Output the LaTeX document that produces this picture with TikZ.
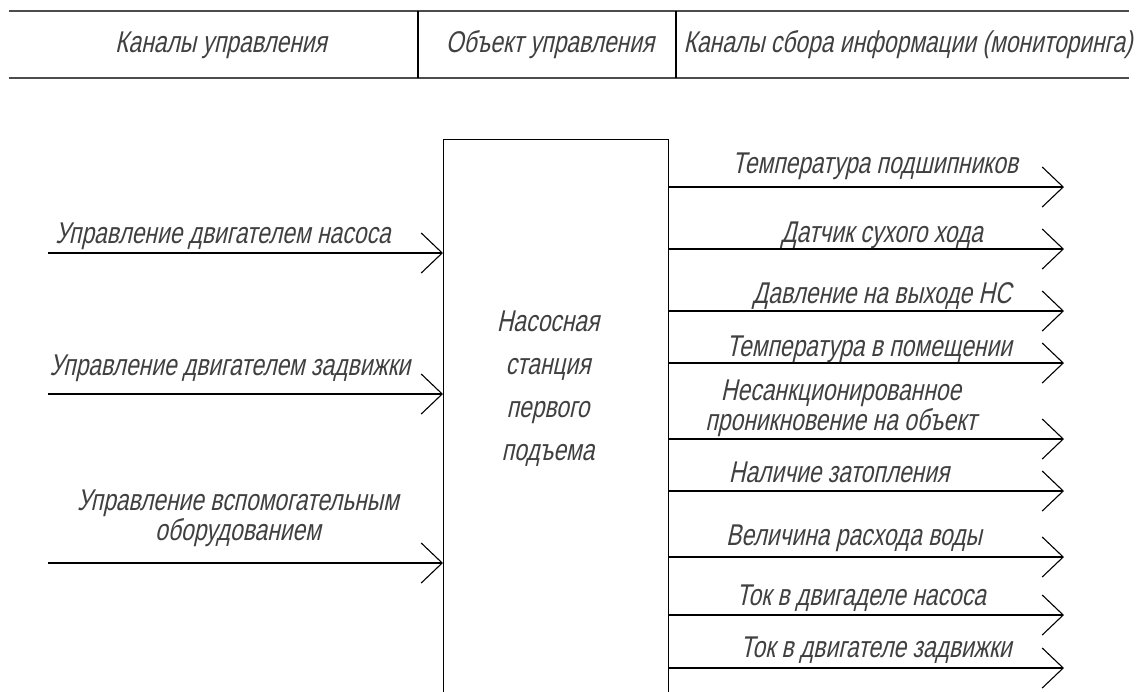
\documentclass[tikz,border=0pt]{standalone}
\usepackage{fontspec}
\newfontfamily\gost{Liberation Sans}[FakeSlant=0.22,FakeStretch=0.76]
\usetikzlibrary{arrows.meta,positioning}

\begin{document}
\begin{tikzpicture}[x=1pt,y=-1pt,
    lbl/.style={font=\gost\fontsize{30}{30}\selectfont, text=black!75, inner sep=0pt, anchor=base, align=center},
    chan/.style={line width=1.1pt, -{Straight Barb[length=21pt,width=40pt]}},
    hline/.style={line width=1.6pt, black!70}]
\useasboundingbox (0,0) rectangle (1143,691);
\clip (0,0) rectangle (1143,691);

% header
\draw[hline] (9,11) -- (1129,11);
\draw[hline] (9,78) -- (1129,78);
\draw[line width=1.1pt] (418,11) -- (418,78);
\draw[line width=1.1pt] (676,11) -- (676,78);
\node[lbl] (h_in) at (221,52) {Каналы управления};
\node[lbl] (h_obj) at (550,52) {Объект управления};
\node[lbl] (h_out) at (908,52) {Каналы сбора информации (мониторинга)};

% object
\node[draw, line width=1.1pt, inner sep=0pt, anchor=north west,
      minimum width=225, minimum height=600] (obj) at (443,139) {};
% (base of a multi-line node = its last line)
\node[lbl, font=\gost\fontsize{30}{42.7}\selectfont] (obj_t) at (548,460)
      {Насосная\\станция\\первого\\подъема};

% control channels
\coordinate (in_1) at (48,253);
\coordinate (in_2) at (48,394);
\coordinate (in_3) at (48,563);
\draw[chan] (in_1) -- (in_1 -| obj.west);
\draw[chan] (in_2) -- (in_2 -| obj.west);
\draw[chan] (in_3) -- (in_3 -| obj.west);
\node[lbl] (in_1_t) at (223,243) {Управление двигателем насоса};
\node[lbl] (in_2_t) at (230,375) {Управление двигателем задвижки};
\node[lbl] (in_3_t) at (238,540) {Управление вспомогательным\\оборудованием};

% monitoring channels
\coordinate (out_1) at (1064,187);
\coordinate (out_2) at (1064,249);
\coordinate (out_3) at (1064,311);
\coordinate (out_4) at (1064,363);
\coordinate (out_5) at (1064,439);
\coordinate (out_6) at (1064,491);
\coordinate (out_7) at (1064,557);
\coordinate (out_8) at (1064,615);
\coordinate (out_9) at (1064,668);
\draw[chan] (out_1 -| obj.east) -- (out_1);
\draw[chan] (out_2 -| obj.east) -- (out_2);
\draw[chan] (out_3 -| obj.east) -- (out_3);
\draw[chan] (out_4 -| obj.east) -- (out_4);
\draw[chan] (out_5 -| obj.east) -- (out_5);
\draw[chan] (out_6 -| obj.east) -- (out_6);
\draw[chan] (out_7 -| obj.east) -- (out_7);
\draw[chan] (out_8 -| obj.east) -- (out_8);
\draw[chan] (out_9 -| obj.east) -- (out_9);
\node[lbl] (out_1_t) at (875,173) {Температура подшипников};
\node[lbl] (out_2_t) at (882,242) {Датчик сухого хода};
\node[lbl] (out_3_t) at (882,303) {Давление на выходе НС};
\node[lbl] (out_4_t) at (869,356) {Температура в помещении};
\node[lbl] (out_5_t) at (841,430) {Несанкционированное\\проникновение на объект};
\node[lbl] (out_6_t) at (839,482) {Наличие затопления};
\node[lbl] (out_7_t) at (854,545) {Величина расхода воды};
\node[lbl] (out_8_t) at (861,605) {Ток в двигаделе насоса};
\node[lbl] (out_9_t) at (876,657) {Ток в двигателе задвижки};
\end{tikzpicture}
\end{document}
